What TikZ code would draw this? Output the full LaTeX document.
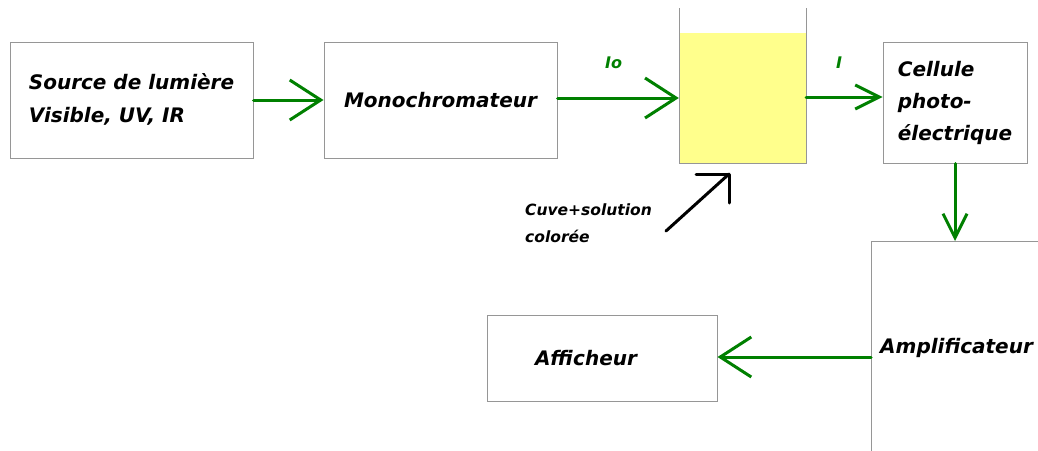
\documentclass[tikz,border=0pt]{standalone}
\usepackage{fontspec}
\setmainfont{DejaVu Sans}
\usetikzlibrary{arrows.meta}
\definecolor{flowgreen}{RGB}{0,128,0}
\definecolor{boxgray}{RGB}{150,150,150}
\definecolor{liquid}{RGB}{255,255,140}
\tikzset{
  box/.style={draw=boxgray, line width=1pt, fill=white, align=left, inner sep=0pt,
    font=\fontsize{20}{33}\selectfont\bfseries\itshape},
  flow/.style={draw=flowgreen, line width=3pt, line cap=round,
    -{Straight Barb[length=31pt, width=40pt, line width=3pt]}},
  smallflow/.style={draw=flowgreen, line width=3pt, line cap=round,
    -{Straight Barb[length=24pt, width=24pt, line width=3pt]}},
  beam/.style={text=flowgreen, font=\fontsize{16}{18}\selectfont\bfseries\itshape},
  note/.style={align=left, inner sep=0pt, font=\fontsize{15.5}{27}\selectfont\bfseries\itshape},
  pointer/.style={line width=3pt, line cap=round, line join=round},
}
\begin{document}
\begin{tikzpicture}[x=1pt, y=-1pt]
\useasboundingbox (0,0) rectangle (1038,450);

% blocks of the spectrophotometer
\node[box, minimum width=243, minimum height=116, text depth=4pt] (src) at (131.5,100)
  {Source de lumière\\Visible, UV, IR};
\node[box, minimum width=233, minimum height=116] (mono) at (440.5,100) {Monochromateur};
\node[box, minimum width=144, minimum height=121, font=\fontsize{20}{32}\selectfont\bfseries\itshape]
  (cell) at (955,102.5) {Cellule\\photo-\\électrique};
\node[box, minimum width=230, minimum height=86, text width=134] (disp) at (602,358) {Afficheur};
\node[box, minimum width=190, minimum height=230, anchor=north west] (ampl) at (871,241) {};
\node[anchor=base west, inner sep=0pt, font=\fontsize{20}{24}\selectfont\bfseries\itshape]
  (ampltext) at (880,353) {Amplificateur};

% cuvette with the coloured solution
\node[fill=liquid, draw=none, minimum width=127, minimum height=130, inner sep=0pt]
  (cuve) at (742.5,98) {};
\draw[boxgray, line width=1pt] (679,8) -- (679,163) -- (806,163) -- (806,8);

% light path and signal
\draw[flow] (src.east |- mono.west) -- (mono.west);
\draw[flow] (mono.east |- cuve.west) -- (cuve.west);
\draw[smallflow] ([yshift=1pt]cuve.east) -- ([yshift=1pt]cuve.east -| cell.west);
\draw[smallflow] (cell.south) -- (cell.south |- ampl.north);
\draw[flow] (ampl.west |- 0,357) -- (disp.east |- 0,357);

\node[beam, anchor=base west, inner sep=0pt] (io) at (605,68) {Io};
\node[beam, anchor=base west, inner sep=0pt] (i) at (836,68) {I};

% label of the cuvette (base = baseline of its last line)
\node[note, anchor=base west] (cuvelabel) at (525,242) {Cuve+solution\\colorée};
\coordinate (ptr0) at (666,231);
\coordinate (ptr1) at (729,174);
\draw[pointer] (ptr0) -- (ptr1);
\draw[pointer] (ptr1) ++(-33,0) -- (ptr1) -- ++(0,29);
\end{tikzpicture}
\end{document}
